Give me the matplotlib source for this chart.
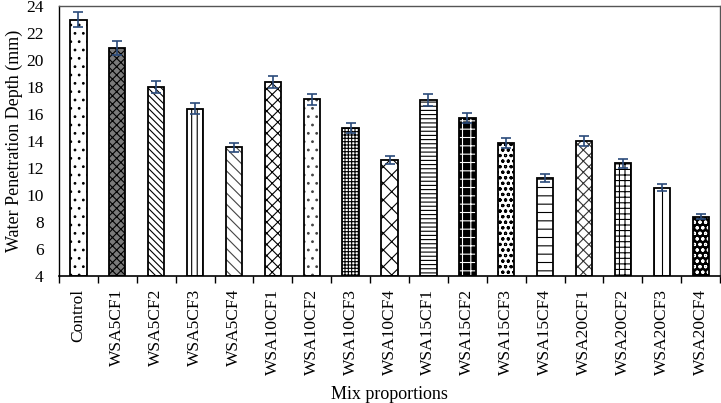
import numpy as np
import matplotlib
matplotlib.use("Agg")
import matplotlib.pyplot as plt

plt.rcParams['font.family'] = ['Liberation Serif', 'DejaVu Serif']
plt.rcParams['hatch.linewidth'] = 0.8

categories = ["Control", "WSA5CF1", "WSA5CF2", "WSA5CF3", "WSA5CF4",
              "WSA10CF1", "WSA10CF2", "WSA10CF3", "WSA10CF4",
              "WSA15CF1", "WSA15CF2", "WSA15CF3", "WSA15CF4",
              "WSA20CF1", "WSA20CF2", "WSA20CF3", "WSA20CF4"]
depth = [23.0, 20.9, 18.0, 16.4, 13.55, 18.35, 17.1, 14.95, 12.6,
         17.05, 15.7, 13.85, 11.25, 14.0, 12.35, 10.55, 8.4]
errors = [0.55, 0.5, 0.43, 0.4, 0.33, 0.44, 0.41, 0.37, 0.32,
          0.42, 0.39, 0.35, 0.3, 0.34, 0.32, 0.27, 0.2]
yticks = [4, 6, 8, 10, 12, 14, 16, 18, 20, 22, 24]

# (facecolor, hatch, hatch colour)
styles = [("white", "..", "black"), ("#7a7a7a", "xxxx", "black"),
          ("white", "\\\\\\\\\\", "black"), ("white", "|||", "black"),
          ("white", "\\\\\\", "#444444"), ("white", "xxx", "black"),
          ("white", "..", "#444444"), ("white", "+++++", "black"),
          ("white", "xx", "black"), ("white", "----", "black"),
          ("black", "++", "white"), ("white", "ooo", "black"),
          ("white", "--", "black"), ("white", "xxx", "#333333"),
          ("white", "+++", "black"), ("white", "||", "black"),
          ("black", "ooo", "white")]

fig = plt.figure(figsize=(7.21, 4.03), dpi=100)
ax = fig.add_axes([0.0818, 0.315, 0.917, 0.670])

x = np.arange(len(categories))
w = 0.42
base = 4
heights = [d - base for d in depth]
for i in range(len(categories)):
    fc, h, hc = styles[i]
    ax.bar(x[i], heights[i], w, bottom=base, color=fc, edgecolor=hc,
           hatch=h, linewidth=0, zorder=2)
ax.bar(x, heights, w, bottom=base, facecolor='none', edgecolor='black',
       linewidth=1.3, zorder=3)
ax.errorbar(x, depth, yerr=errors, fmt='none', ecolor='#2a4a7a',
            elinewidth=1.2, capsize=3.5, capthick=1.2, zorder=4)

ax.set_xlim(-0.5, len(categories) - 0.5)
ax.set_ylim(4, 24)
ax.set_yticks(yticks)
ax.tick_params(axis='y', length=0, labelsize=12.5, pad=11)
ax.set_xticks(x)
ax.set_xticklabels(categories, rotation=90, fontsize=12.5)
ax.tick_params(axis='x', which='major', length=0, pad=9)
ax.set_xticks(np.arange(len(categories) + 1) - 0.5, minor=True)
ax.tick_params(axis='x', which='minor', length=5, width=1.0)

for s in ['top', 'right']:
    ax.spines[s].set_color('#555555')
    ax.spines[s].set_linewidth(1.0)
ax.spines['left'].set_linewidth(1.0)
ax.spines['bottom'].set_linewidth(1.2)

ax.set_ylabel("Water Penetration Depth (mm)", fontsize=13, labelpad=2)
ax.set_xlabel("Mix proportions", fontsize=13, labelpad=8)

fig.savefig("out.png", dpi=100)
